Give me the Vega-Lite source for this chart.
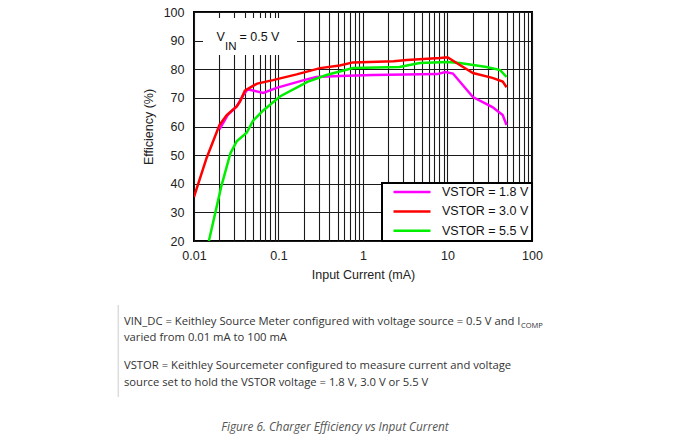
{
  "$schema": "https://vega.github.io/schema/vega-lite/v6.json",
  "width": 338,
  "height": 229,
  "autosize": {"type": "none"},
  "padding": {"left": 194, "top": 12, "right": 145, "bottom": 206},
  "background": "white",
  "config": {
    "view": {"stroke": "black", "strokeWidth": 2},
    "font": "Liberation Sans",
    "axis": {
      "labelFont": "Liberation Sans",
      "titleFont": "Liberation Sans",
      "labelFontSize": 12.5,
      "titleFontSize": 12.5,
      "titleFontWeight": "normal",
      "labelColor": "#222",
      "titleColor": "#222",
      "ticks": false,
      "domain": false,
      "grid": true,
      "gridColor": "#1a1a1a",
      "gridWidth": 1.1,
      "gridOpacity": 1,
      "labelOverlap": false,
      "labelSeparation": -40,
      "labelBound": false
    },
    "axisY": {"labelOverlap": false, "labelSeparation": -40, "tickCount": 9}
  },
  "data": {
    "values": [
      {"current": 0.02, "efficiency": 59, "series": "VSTOR = 1.8 V"},
      {"current": 0.025, "efficiency": 64, "series": "VSTOR = 1.8 V"},
      {"current": 0.032, "efficiency": 67, "series": "VSTOR = 1.8 V"},
      {"current": 0.038, "efficiency": 70.8, "series": "VSTOR = 1.8 V"},
      {"current": 0.043, "efficiency": 72.9, "series": "VSTOR = 1.8 V"},
      {"current": 0.05, "efficiency": 72.6, "series": "VSTOR = 1.8 V"},
      {"current": 0.066, "efficiency": 71.7, "series": "VSTOR = 1.8 V"},
      {"current": 0.095, "efficiency": 73.5, "series": "VSTOR = 1.8 V"},
      {"current": 0.2, "efficiency": 76.2, "series": "VSTOR = 1.8 V"},
      {"current": 0.28, "efficiency": 77.3, "series": "VSTOR = 1.8 V"},
      {"current": 0.53, "efficiency": 77.6, "series": "VSTOR = 1.8 V"},
      {"current": 1.3, "efficiency": 78, "series": "VSTOR = 1.8 V"},
      {"current": 7.6, "efficiency": 78.3, "series": "VSTOR = 1.8 V"},
      {"current": 9.4, "efficiency": 79, "series": "VSTOR = 1.8 V"},
      {"current": 11.6, "efficiency": 78.5, "series": "VSTOR = 1.8 V"},
      {"current": 20, "efficiency": 70.3, "series": "VSTOR = 1.8 V"},
      {"current": 34, "efficiency": 66.8, "series": "VSTOR = 1.8 V"},
      {"current": 45, "efficiency": 64, "series": "VSTOR = 1.8 V"},
      {"current": 50, "efficiency": 60.5, "series": "VSTOR = 1.8 V"},

      {"current": 0.015, "efficiency": 20, "series": "VSTOR = 5.5 V"},
      {"current": 0.021, "efficiency": 39, "series": "VSTOR = 5.5 V"},
      {"current": 0.027, "efficiency": 50.7, "series": "VSTOR = 5.5 V"},
      {"current": 0.032, "efficiency": 54.8, "series": "VSTOR = 5.5 V"},
      {"current": 0.042, "efficiency": 57.8, "series": "VSTOR = 5.5 V"},
      {"current": 0.05, "efficiency": 62, "series": "VSTOR = 5.5 V"},
      {"current": 0.066, "efficiency": 65.6, "series": "VSTOR = 5.5 V"},
      {"current": 0.104, "efficiency": 70.5, "series": "VSTOR = 5.5 V"},
      {"current": 0.22, "efficiency": 75.6, "series": "VSTOR = 5.5 V"},
      {"current": 0.37, "efficiency": 78, "series": "VSTOR = 5.5 V"},
      {"current": 0.76, "efficiency": 80.4, "series": "VSTOR = 5.5 V"},
      {"current": 2.7, "efficiency": 80.8, "series": "VSTOR = 5.5 V"},
      {"current": 4.7, "efficiency": 82.2, "series": "VSTOR = 5.5 V"},
      {"current": 10, "efficiency": 82.5, "series": "VSTOR = 5.5 V"},
      {"current": 14, "efficiency": 82.2, "series": "VSTOR = 5.5 V"},
      {"current": 29, "efficiency": 80.8, "series": "VSTOR = 5.5 V"},
      {"current": 42, "efficiency": 79.7, "series": "VSTOR = 5.5 V"},
      {"current": 50, "efficiency": 77.3, "series": "VSTOR = 5.5 V"},

      {"current": 0.01, "efficiency": 35.4, "series": "VSTOR = 3.0 V"},
      {"current": 0.0141, "efficiency": 49, "series": "VSTOR = 3.0 V"},
      {"current": 0.02, "efficiency": 60.5, "series": "VSTOR = 3.0 V"},
      {"current": 0.0244, "efficiency": 64, "series": "VSTOR = 3.0 V"},
      {"current": 0.032, "efficiency": 67, "series": "VSTOR = 3.0 V"},
      {"current": 0.035, "efficiency": 68.7, "series": "VSTOR = 3.0 V"},
      {"current": 0.04, "efficiency": 72.5, "series": "VSTOR = 3.0 V"},
      {"current": 0.046, "efficiency": 73.6, "series": "VSTOR = 3.0 V"},
      {"current": 0.056, "efficiency": 75, "series": "VSTOR = 3.0 V"},
      {"current": 0.086, "efficiency": 76.2, "series": "VSTOR = 3.0 V"},
      {"current": 0.164, "efficiency": 78.2, "series": "VSTOR = 3.0 V"},
      {"current": 0.31, "efficiency": 80.4, "series": "VSTOR = 3.0 V"},
      {"current": 0.53, "efficiency": 81.3, "series": "VSTOR = 3.0 V"},
      {"current": 0.76, "efficiency": 82.4, "series": "VSTOR = 3.0 V"},
      {"current": 2.3, "efficiency": 82.8, "series": "VSTOR = 3.0 V"},
      {"current": 3.3, "efficiency": 83.2, "series": "VSTOR = 3.0 V"},
      {"current": 8.2, "efficiency": 83.9, "series": "VSTOR = 3.0 V"},
      {"current": 10, "efficiency": 84.2, "series": "VSTOR = 3.0 V"},
      {"current": 14, "efficiency": 81.5, "series": "VSTOR = 3.0 V"},
      {"current": 20, "efficiency": 78.7, "series": "VSTOR = 3.0 V"},
      {"current": 34, "efficiency": 77, "series": "VSTOR = 3.0 V"},
      {"current": 45, "efficiency": 75.7, "series": "VSTOR = 3.0 V"},
      {"current": 50, "efficiency": 73.7, "series": "VSTOR = 3.0 V"}
    ]
  },
  "layer": [
    {
      "mark": {"type": "line", "strokeWidth": 2.5, "clip": true},
      "encoding": {
        "x": {
          "field": "current",
          "type": "quantitative",
          "scale": {"type": "log", "domain": [0.01, 100]},
          "title": "Input Current (mA)",
          "axis": {
            "values": [0.01,0.02,0.03,0.04,0.05,0.06,0.07,0.08,0.09,0.1,0.2,0.3,0.4,0.5,0.6,0.7,0.8,0.9,1,2,3,4,5,6,7,8,9,10,20,30,40,50,60,70,80,90,100],
            "labelExpr": "(datum.value == 0.01 || datum.value == 0.1 || datum.value == 1 || datum.value == 10 || datum.value == 100) ? format(datum.value, '~g') : ''",
            "labelPadding": 8,
            "titlePadding": 7,
            "labelFlush": false,
            "labelOverlap": false
          }
        },
        "y": {
          "field": "efficiency",
          "type": "quantitative",
          "scale": {"domain": [20, 100], "nice": false, "zero": false},
          "title": "Efficiency (%)",
          "axis": {"values": [20,30,40,50,60,70,80,90,100], "labelPadding": 10, "titlePadding": 8, "labelFlush": false, "labelOverlap": false, "labelSeparation": -40}
        },
        "color": {
          "field": "series",
          "type": "nominal",
          "scale": {
            "domain": ["VSTOR = 1.8 V", "VSTOR = 3.0 V", "VSTOR = 5.5 V"],
            "range": ["#ff00ff", "#ff0000", "#00ee00"]
          },
          "legend": {
            "title": null,
            "orient": "bottom-right",
            "offset": 0,
            "symbolType": "stroke",
            "symbolSize": 1369,
            "symbolStrokeWidth": 2.5,
            "clipHeight": 12,
            "rowPadding": 6.4,
            "padding": 3,
            "symbolOffset": 7,
            "labelOffset": 10,
            "labelFont": "Liberation Sans",
            "labelFontSize": 12.5,
            "labelColor": "#111",
            "labelLimit": 0,
            "labelExpr": "datum.label + '\u00a0\u00a0\u00a0'",
            "fillColor": "white",
            "strokeColor": "black",
            "encode": {"legend": {"update": {"strokeWidth": {"value": 2}}}}
          }
        }
      }
    },
    {
      "data": {"values": [{"box": "vin"}]},
      "mark": {"type": "rect", "fill": "white", "stroke": null},
      "encoding": {
        "x": {"datum": 0.01278},
        "x2": {"datum": 0.1656},
        "y": {"datum": 97.9},
        "y2": {"datum": 84.98}
      }
    },
    {
      "data": {"values": [{"t": "V"}]},
      "mark": {"type": "text", "align": "left", "baseline": "alphabetic", "fontSize": 12.5, "font": "Liberation Sans", "color": "#111"},
      "encoding": {"x": {"datum": 0.018466}, "y": {"datum": 89.87}, "text": {"field": "t"}}
    },
    {
      "data": {"values": [{"t": "IN"}]},
      "mark": {"type": "text", "align": "left", "baseline": "alphabetic", "fontSize": 11.5, "font": "Liberation Sans", "color": "#111"},
      "encoding": {"x": {"datum": 0.023276}, "y": {"datum": 86.73}, "text": {"field": "t"}}
    },
    {
      "data": {"values": [{"t": "= 0.5 V"}]},
      "mark": {"type": "text", "align": "left", "baseline": "alphabetic", "fontSize": 12.5, "font": "Liberation Sans", "color": "#111"},
      "encoding": {"x": {"datum": 0.03455}, "y": {"datum": 89.87}, "text": {"field": "t"}}
    },
    {
      "data": {"values": [{"t": "rule"}]},
      "mark": {"type": "rule", "color": "#dcdcdc", "strokeWidth": 1.5},
      "encoding": {"x": {"datum": 0.001271}, "y": {"datum": -2.36}, "y2": {"datum": -34.5}}
    },
    {
      "data": {"values": [{"t": "VIN_DC = Keithley Source Meter configured with voltage source = 0.5 V and I"}]},
      "mark": {"type": "text", "align": "left", "baseline": "middle", "fontSize": 11.25, "font": "Open Sans", "color": "#333"},
      "encoding": {"x": {"datum": 0.001484}, "y": {"datum": -8.19}, "text": {"field": "t"}}
    },
    {
      "data": {"values": [{"t": "COMP"}]},
      "mark": {"type": "text", "align": "left", "baseline": "middle", "fontSize": 7.5, "font": "Open Sans", "color": "#333"},
      "encoding": {"x": {"datum": 74.1}, "y": {"datum": -9.6}, "text": {"field": "t"}}
    },
    {
      "data": {"values": [{"t": "varied from 0.01 mA to 100 mA"}]},
      "mark": {"type": "text", "align": "left", "baseline": "middle", "fontSize": 11.25, "font": "Open Sans", "color": "#333"},
      "encoding": {"x": {"datum": 0.001484}, "y": {"datum": -13.89}, "text": {"field": "t"}}
    },
    {
      "data": {"values": [{"t": "VSTOR = Keithley Sourcemeter configured to measure current and voltage"}]},
      "mark": {"type": "text", "align": "left", "baseline": "middle", "fontSize": 11.25, "font": "Open Sans", "color": "#333"},
      "encoding": {"x": {"datum": 0.001484}, "y": {"datum": -23.67}, "text": {"field": "t"}}
    },
    {
      "data": {"values": [{"t": "source set to hold the VSTOR voltage = 1.8 V, 3.0 V or 5.5 V"}]},
      "mark": {"type": "text", "align": "left", "baseline": "middle", "fontSize": 11.25, "font": "Open Sans", "color": "#333"},
      "encoding": {"x": {"datum": 0.001484}, "y": {"datum": -29.5}, "text": {"field": "t"}}
    },
    {
      "data": {"values": [{"t": "Figure 6. Charger Efficiency vs Input Current"}]},
      "mark": {"type": "text", "align": "center", "baseline": "middle", "fontSize": 11.8, "font": "Open Sans", "fontStyle": "italic", "color": "#555"},
      "encoding": {"x": {"datum": 0.4662}, "y": {"datum": -44.98}, "text": {"field": "t"}}
    }
  ]
}
